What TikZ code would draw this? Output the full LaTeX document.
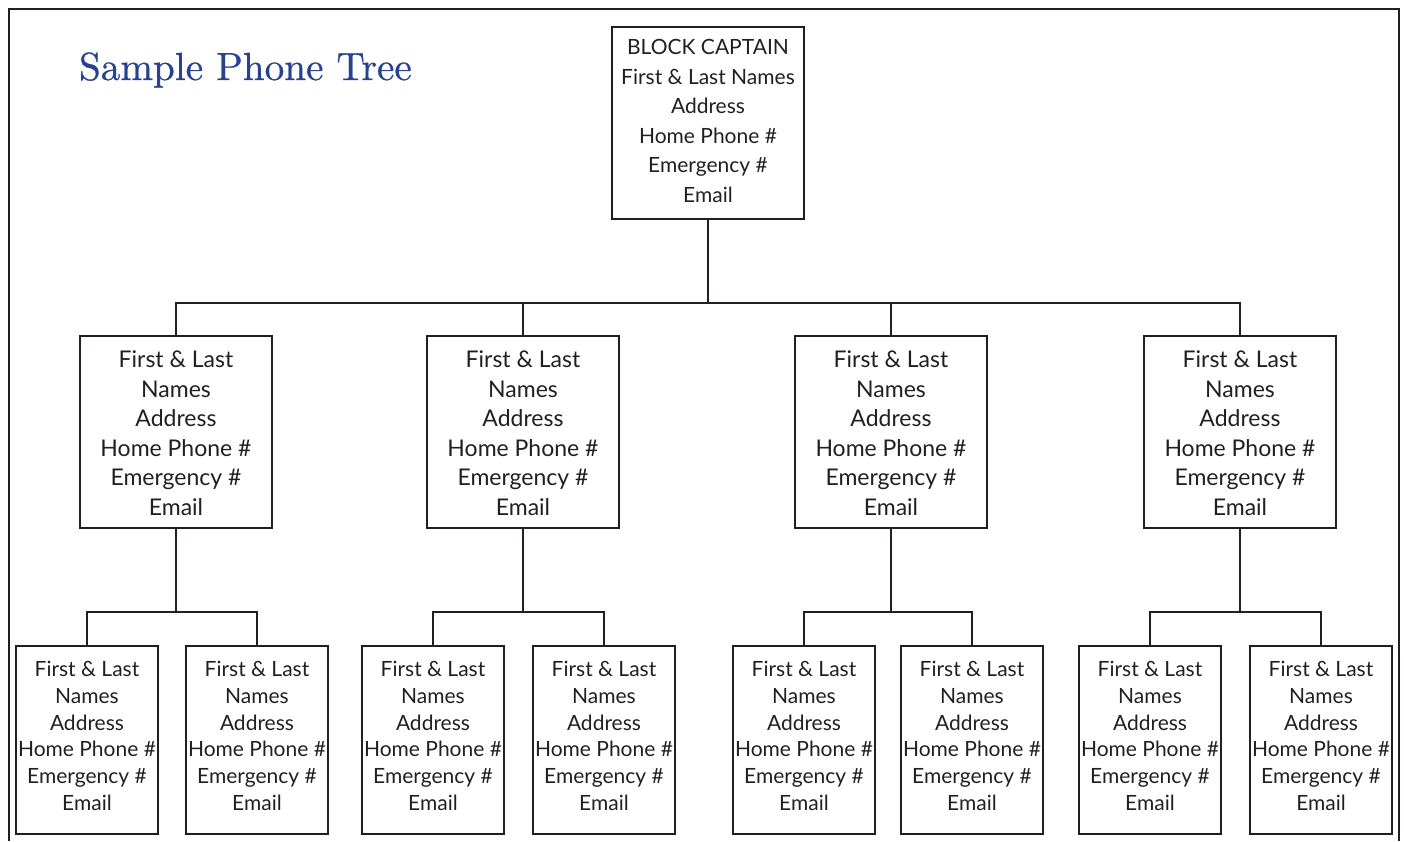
\documentclass[tikz,border=0pt]{standalone}
\usepackage{fontspec}
\setsansfont{Lato}
\newfontfamily\titlefont{lmroman10-regular}[Extension=.otf, FakeBold=0.6]
\definecolor{ink}{RGB}{35,31,32}
\definecolor{titleblue}{RGB}{40,66,146}
\begin{document}
\begin{tikzpicture}[x=1pt,y=-1pt,
  every node/.style={inner sep=0pt, outer sep=0pt},
  bx/.style={draw=ink, line width=2.7pt, rectangle},
  topbox/.style={bx, minimum width=192, minimum height=192},
  midbox/.style={bx, minimum width=192, minimum height=192},
  lowbox/.style={bx, minimum width=142, minimum height=188},
  txt/.style={align=center, text=ink},
  toptext/.style={txt, font=\sffamily\fontsize{21}{29.6}\selectfont},
  midtext/.style={txt, font=\sffamily\fontsize{23}{29.5}\selectfont},
  lowtext/.style={txt, font=\sffamily\fontsize{21}{26.8}\selectfont},
  conn/.style={draw=ink, line width=2.7pt}
]
\useasboundingbox (0,0) rectangle (1404,841);
\draw[ink, line width=2.8pt] (9,841) -- (9,9) -- (1399,9) -- (1399,841);
\node[anchor=base west, text=titleblue, font=\titlefont\fontsize{39.2}{41}\selectfont] (title) at (79,80) {Sample Phone Tree};

\node[topbox] (cap) at (708,123) {};
\node[toptext] (capt) at ([yshift=2pt]cap.center) {BLOCK CAPTAIN\\First \& Last Names\\Address\\Home Phone \#\\Emergency \#\\Email};

\foreach \n/\x in {m1/176,m2/523,m3/891,m4/1240}{
  \node[midbox] (\n) at (\x,432) {};
  \node[midtext] (\n t) at ([yshift=-1pt]\n.center) {First \& Last\\Names\\Address\\Home Phone \#\\Emergency \#\\Email};
}
\foreach \n/\x in {b1/87,b2/257,b3/433,b4/604,b5/804,b6/972,b7/1150,b8/1321}{
  \node[lowbox] (\n) at (\x,740) {};
  \node[lowtext] (\n t) at ([yshift=4pt]\n.center) {First \& Last\\Names\\Address\\Home Phone \#\\Emergency \#\\Email};
}

\coordinate (hub) at (708,303);
\draw[conn] (cap.south) -- (hub);
\draw[conn] (m1.north) |- (hub) -| (m4.north);
\draw[conn] (m2.north) -- (m2.north |- hub);
\draw[conn] (m3.north) -- (m3.north |- hub);

\foreach \m/\l/\r in {m1/b1/b2, m2/b3/b4, m3/b5/b6, m4/b7/b8}{
  \coordinate (\m j) at ([yshift=-84pt]\m.south);
  \draw[conn] (\m.south) -- (\m j);
  \draw[conn] (\l.north) |- (\m j) -| (\r.north);
}
\end{tikzpicture}
\end{document}
